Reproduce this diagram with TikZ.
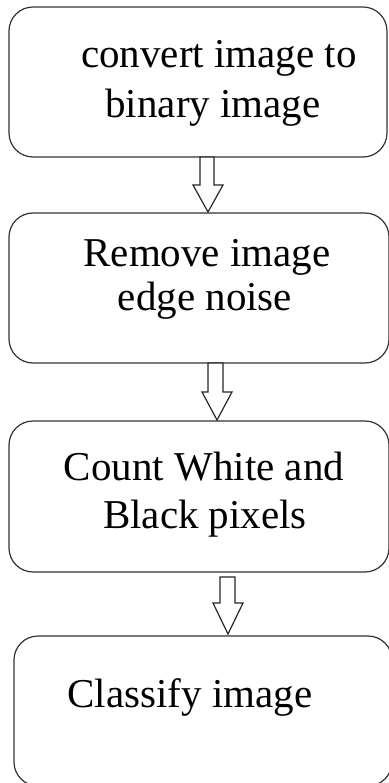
\documentclass[tikz,border=0pt]{standalone}
\usepackage{fontspec}
\setmainfont{Liberation Serif}
\usetikzlibrary{calc}
\tikzset{
  x=1pt, y=1pt,
  stepbox/.style={draw=black!80, line width=1.2pt, rounded corners=24pt, inner sep=0pt},
  steptext/.style={font=\fontsize{41}{49}\selectfont, align=center, anchor=base, inner sep=0pt, text=black},
  blockarrow/.style={draw=black!85, line width=1.2pt, fill=white, line join=miter}
}
\begin{document}
\begin{tikzpicture}
\useasboundingbox (0,0) rectangle (388,-783);
% boxes
\node[stepbox, minimum width=378pt, minimum height=150pt] (b1) at (198,-82) {};
\node[stepbox, minimum width=380pt, minimum height=150pt] (b2) at (199,-288) {};
\node[stepbox, minimum width=380pt, minimum height=151pt] (b3) at (199,-496.5) {};
\node[stepbox, minimum width=378pt, minimum height=150pt] (b4) at (203,-711) {};
% texts
\node[steptext] (t1a) at (219,-68) {convert image to};
\node[steptext] (t1b) at (213,-118) {binary image};
\node[steptext] (t2a) at (207,-266) {Remove image};
\node[steptext] (t2b) at (205,-310) {edge noise};
\node[steptext] (t3a) at (204,-480) {Count White and};
\node[steptext] (t3b) at (205,-528) {Black pixels};
\node[steptext] (t4) at (190,-707) {Classify image};
% block arrows: from box bottom (shaft top) to next box top (tip)
\coordinate (a1s) at (207,-157);
\coordinate (a1t) at (208,-212);
\draw[blockarrow] ($(a1s)+(-7,0)$) -- ($(a1s)+(7,0)$) -- ($(a1s)+(7,-28)$) -- ($(a1s)+(16,-28)$)
  -- (a1t) -- ($(a1s)+(-14,-28)$) -- ($(a1s)+(-7,-28)$) -- cycle;
\coordinate (a2s) at (215.5,-363);
\coordinate (a2t) at (217,-420);
\draw[blockarrow] ($(a2s)+(-7.5,0)$) -- ($(a2s)+(7.5,0)$) -- ($(a2s)+(7.5,-29)$) -- ($(a2s)+(16.5,-29)$)
  -- (a2t) -- ($(a2s)+(-13.5,-29)$) -- ($(a2s)+(-7.5,-29)$) -- cycle;
\coordinate (a3s) at (227.5,-577);
\coordinate (a3t) at (228,-634);
\draw[blockarrow] ($(a3s)+(-7.5,0)$) -- ($(a3s)+(7.5,0)$) -- ($(a3s)+(7.5,-26)$) -- ($(a3s)+(15.5,-26)$)
  -- (a3t) -- ($(a3s)+(-14.5,-26)$) -- ($(a3s)+(-7.5,-26)$) -- cycle;
\end{tikzpicture}
\end{document}
